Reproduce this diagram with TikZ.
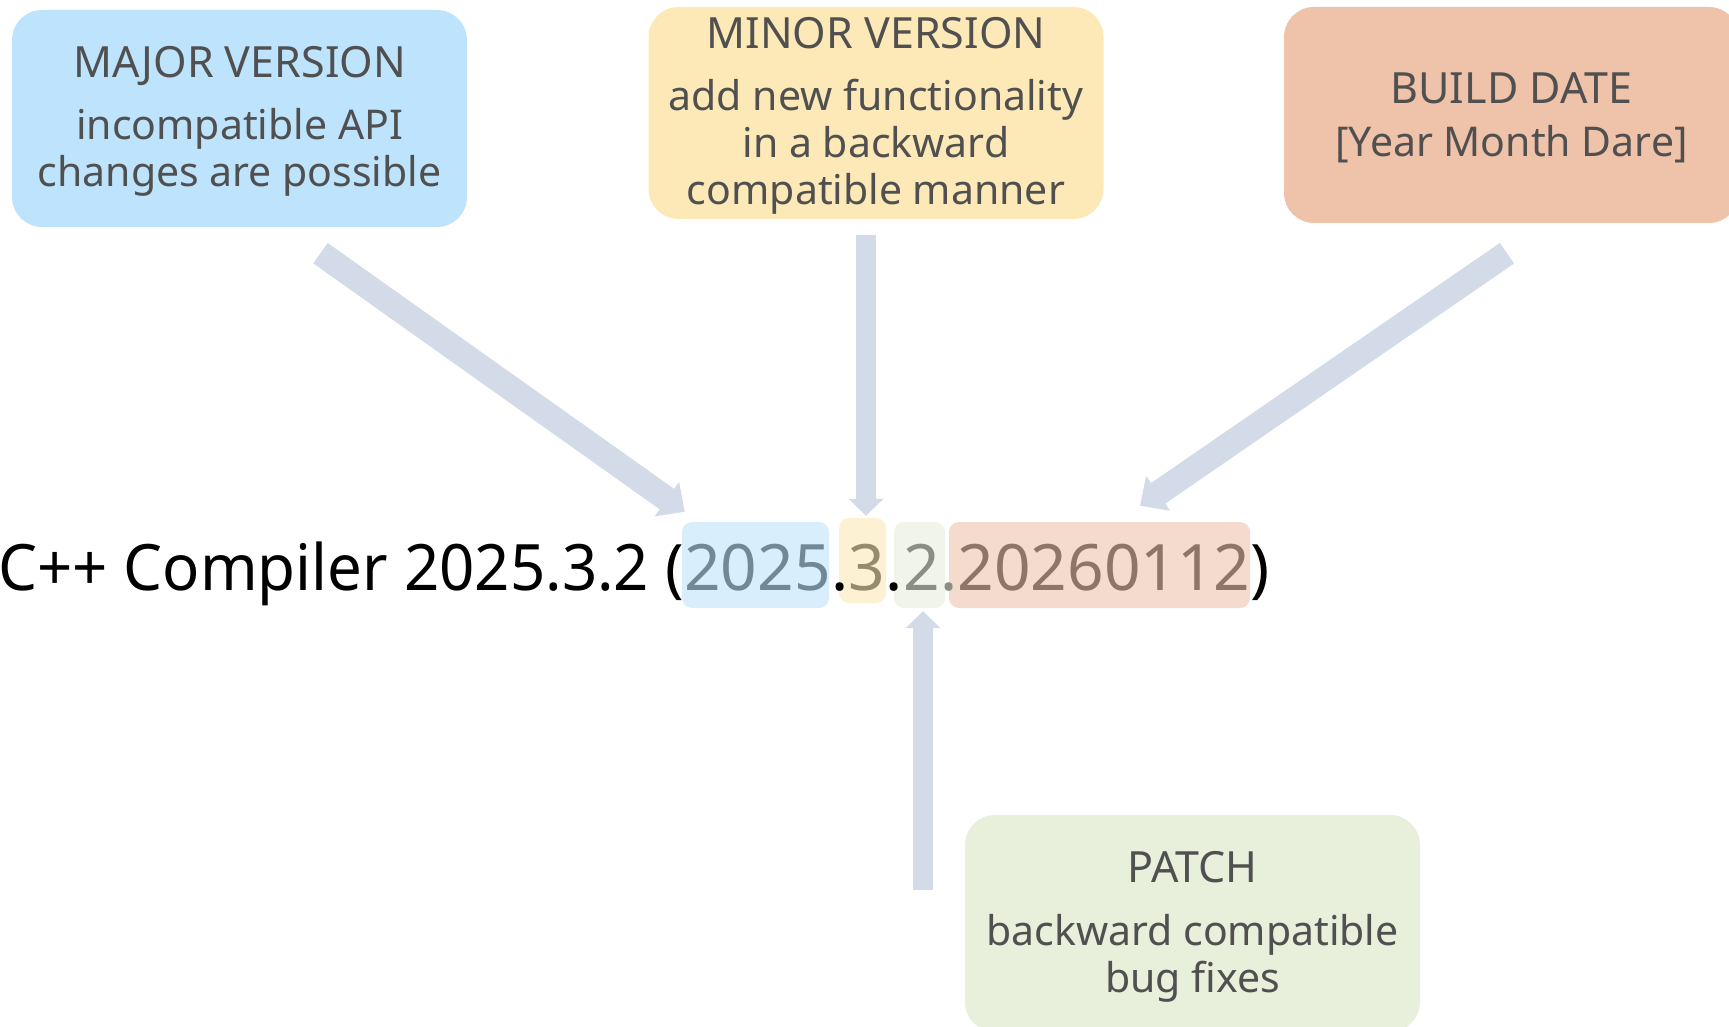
\documentclass[tikz,border=0pt]{standalone}
\usepackage{fontspec}
\setmainfont{Noto Sans}
\newfontfamily\condfont[FakeStretch=0.965]{Noto Sans}
\usetikzlibrary{arrows.meta,calc}
\definecolor{majc}{HTML}{BEE3FC}
\definecolor{minc}{HTML}{FCE9B7}
\definecolor{bldc}{HTML}{EFC2AA}
\definecolor{patc}{HTML}{E8EFDA}
\definecolor{hlmajc}{HTML}{D8EEFD}
\definecolor{hlminc}{HTML}{FDF1D3}
\definecolor{hlpatc}{HTML}{F1F5E9}
\definecolor{hlbldc}{HTML}{F5DBCD}
\definecolor{majt}{HTML}{728897}
\definecolor{mint}{HTML}{978B6D}
\definecolor{patt}{HTML}{8B8F83}
\definecolor{bldt}{HTML}{8F7567}
\definecolor{txtgray}{HTML}{505050}
\definecolor{arrowc}{HTML}{D3DAE8}
\newcommand{\ttl}[1]{{\fontsize{43}{47}\selectfont #1}}
\begin{document}
\begin{tikzpicture}[x=1pt,y=-1pt,
  infobox/.style={rounded corners=30pt, minimum width=455pt, inner sep=0pt},
  boxtext/.style={inner sep=0pt, align=center, font=\fontsize{41}{47}\selectfont, text=txtgray},
  hlbox/.style={rounded corners=10pt, inner sep=0pt},
  seg/.style={inner sep=0pt, anchor=base west, font=\fontsize{64}{70}\selectfont},
  bigarrow/.style={draw=arrowc, line width=25pt, -{Triangle[length=22pt,width=41pt]}},
  thinarrow/.style={draw=arrowc, line width=20pt, -{Triangle[length=17pt,width=34pt]}}]
\clip (0,0) rectangle (1729,1027);
\useasboundingbox (0,0) rectangle (1729,1027);

% info boxes
\node[infobox, fill=majc, minimum height=217pt] (major) at (239.5,118.5) {};
\node[infobox, fill=minc, minimum height=212pt] (minor) at (876,113) {};
\node[infobox, fill=bldc, minimum height=216pt] (build) at (1511.5,115) {};
\node[infobox, fill=patc, minimum height=217pt] (patch) at (1192.5,923.5) {};

\node[boxtext] (majortext) at ([yshift=-3pt]major.center)
  {\ttl{MAJOR VERSION}\\[15pt]incompatible API\\changes are possible};
\node[boxtext] (minortext) at ([yshift=-3pt]minor.center)
  {\ttl{MINOR VERSION}\\[15pt]add new functionality\\in a backward\\compatible manner};
\node[boxtext] (buildtext) at ([yshift=-3pt]build.center)
  {\ttl{BUILD DATE}\\[6pt]{[Year Month Dare]}};
\node[boxtext] (patchtext) at ([yshift=-3pt]patch.center)
  {\ttl{PATCH}\\[16pt]backward compatible\\bug fixes};

% highlight boxes
\node[hlbox, fill=hlmajc, minimum width=147pt, minimum height=86pt] (hlmaj) at (755.5,565) {};
\node[hlbox, fill=hlminc, minimum width=47pt, minimum height=85pt] (hlmin) at (862.5,560.5) {};
\node[hlbox, fill=hlpatc, minimum width=51pt, minimum height=86pt] (hlpat) at (919.5,565) {};
\node[hlbox, fill=hlbldc, minimum width=301pt, minimum height=86pt] (hlbld) at (1099.5,565) {};

% version line
\node[seg, anchor=base east] (pre) at (684,590) {\condfont C++ Compiler 2025.3.2 (};
\node[seg, text=majt] (tmaj) at (pre.base east) {2025};
\node[seg] (dot1) at (tmaj.base east) {.};
\node[seg, text=mint] (tmin) at (dot1.base east) {3};
\node[seg] (dot2) at (tmin.base east) {.};
\node[seg, text=patt] (tpat) at (dot2.base east) {2};
\node[seg, text=patt] (dot3) at (tpat.base east) {.};
\node[seg, text=bldt] (tbld) at (dot3.base east) {20260112};
\node[seg] (closep) at (tbld.base east) {)};

% arrows
\draw[bigarrow] ([xshift=81pt,yshift=-26pt]major.south) -- ([xshift=3pt,yshift=10pt]hlmaj.north west);
\draw[thinarrow] ([xshift=-10pt,yshift=-16pt]minor.south) -- ([xshift=3.5pt,yshift=2pt]hlmin.north);
\draw[bigarrow] ([xshift=-4.5pt,yshift=-30pt]build.south) -- ([xshift=40.5pt,yshift=16pt]hlbld.north);
\draw[thinarrow] ([xshift=3.5pt,yshift=-282pt]hlpat.south) -- ([xshift=3.5pt,yshift=-3pt]hlpat.south);
\end{tikzpicture}
\end{document}
